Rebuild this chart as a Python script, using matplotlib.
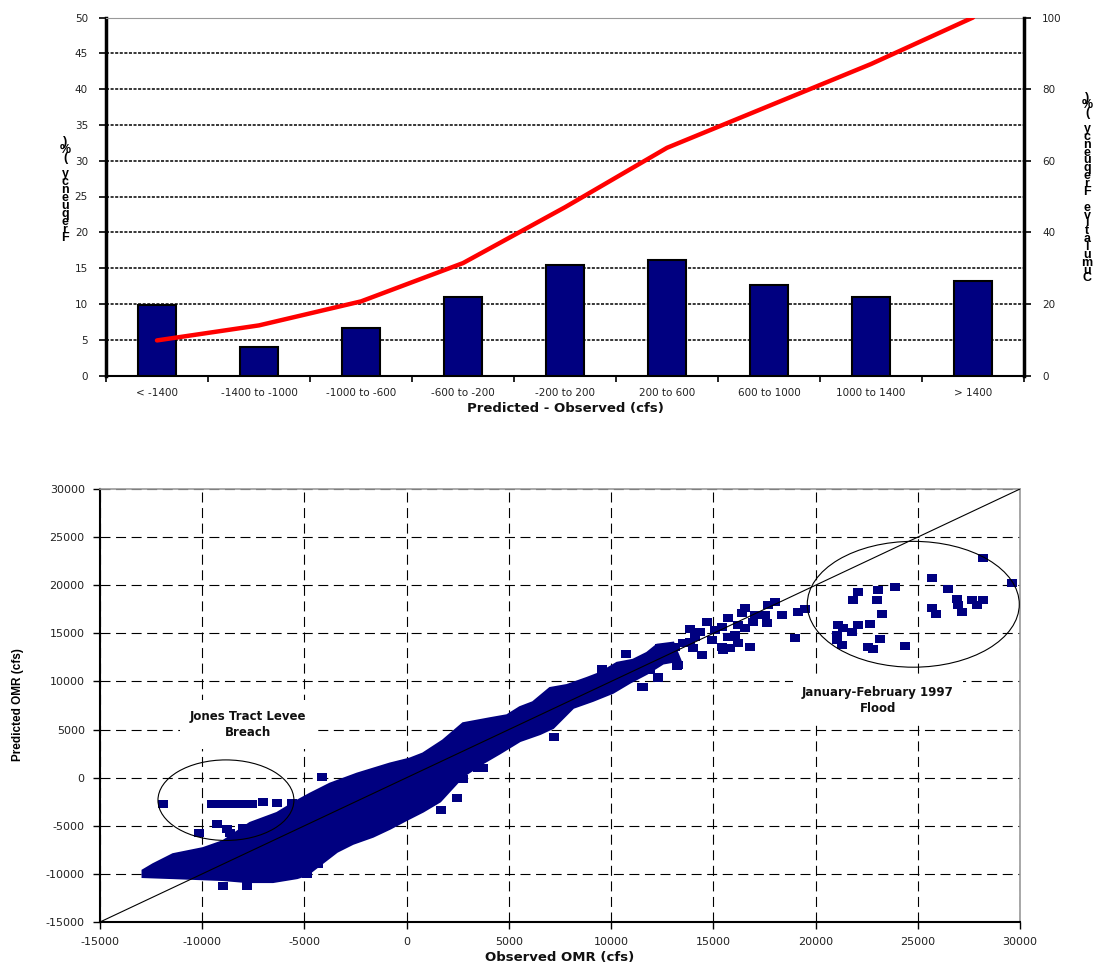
import matplotlib
matplotlib.use('Agg')
import matplotlib.pyplot as plt
from matplotlib.patches import Ellipse
import numpy as np

plt.rcParams['font.family'] = ['DejaVu Sans']
plt.rcParams['axes.unicode_minus'] = False

# ---------------- top chart data ----------------
categories = ["< -1400", "-1400 to -1000", "-1000 to -600", "-600 to -200",
              "-200 to 200", "200 to 600", "600 to 1000", "1000 to 1400", "> 1400"]
frequency = [9.8, 4.0, 6.7, 10.9, 15.5, 16.2, 12.6, 10.9, 13.2]
cumulative = [9.8, 14.0, 20.7, 31.4, 47.0, 63.6, 75.3, 87.0, 100.0]
freq_ticks = [0, 5, 10, 15, 20, 25, 30, 35, 40, 45, 50]
cum_ticks = [0, 20, 40, 60, 80, 100]

# ---------------- bottom chart data ----------------
# dense band of points: outer envelope (upper edge left->right, lower edge right->left)
band_upper_x = [-12900, -12400, -11430, -9960, -8980, -7660, -6340, -5360, -4730, -3750,
                -2430, -820, 160, 800, 1780, 2760, 4080, 4910, 5540, 6180, 7010, 7840,
                8820, 9460, 10290, 11070, 11760, 12250, 13030]
band_upper_y = [-9660, -9030, -7990, -7360, -6630, -4740, -3700, -2440, -1710, -660,
                380, 1430, 1950, 2480, 3840, 5620, 6140, 6450, 7290, 7810, 9280, 9590,
                10330, 10850, 11900, 12210, 12940, 13780, 13990]
band_lower_x = [13370, 12540, 11760, 10920, 10090, 9110, 8140, 7160, 6520, 5540, 4570,
                3730, 2760, 1630, 800, 20, -820, -1650, -2630, -3410, -4240, -4880,
                -5360, -6540, -7810, -8980, -11430, -12900]
band_lower_y = [12210, 11900, 10850, 9910, 8860, 8020, 7290, 5200, 4570, 3840, 2580,
                1540, 180, -2440, -3490, -4330, -5270, -6100, -6840, -7670, -9030, -10080,
                -10400, -10810, -10810, -10600, -10400, -10290]

# Jones Tract levee breach points
jones_x = [-11920, -9520, -9030, -8540, -8050, -7570, -7030, -6340, -5610, -4140,
           -9280, -10160, -8790, -8640, -8010, -8300, -8980, -7810]
jones_y = [-2760, -2760, -2760, -2760, -2760, -2760, -2550, -2650, -2650, 70,
           -4850, -5790, -5370, -5790, -5270, -6100, -11230, -11230]

# scattered points off / along the band
other_x = [-4730, -4340, -4970, -4880, 1680, 2460, 2760, 3490, 3730, 7210,
           10730, 9550, 11510, 12290, 13220,
           11560, 11900, 12290, 12050, 12390, 12880, 13270, 13130, 13520, 13860,
           14000, 14450, 14100, 14350, 14690, 13860, 14940, 15080, 15420, 15420,
           15470, 15820, 15720, 15720, 16060, 16210, 16210, 16400, 16550, 16550,
           16790, 17040, 16940, 17530, 17630, 17670, 18020, 18360, 19000, 19140, 19480]
other_y = [-8200, -8930, -9450, -9980, -3380, -2130, -140, 1010, 1010, 4260,
           12840, 11270, 9380, 10330, 11580,
           9380, 11160, 10430, 12000, 13470, 13260, 11690, 13570, 13990, 14090,
           13470, 12730, 14620, 15140, 16190, 15450, 14300, 15350, 15660, 13570,
           13260, 13470, 14620, 16600, 14830, 15870, 13990, 17130, 17650, 15560,
           13570, 16920, 16190, 16920, 16080, 17970, 18280, 16920, 14510, 17230, 17550]

# January-February 1997 flood points
flood_x = [21830, 22080, 23060, 23010, 23890, 23250, 21100, 21340, 21050, 21050,
           21290, 21780, 22080, 22660, 23150, 22570, 22810, 24380, 25700, 26480,
           25700, 25890, 26920, 26970, 27160, 27650, 27900, 28190, 28190, 29610]
flood_y = [18490, 19330, 19540, 18490, 19850, 17020, 15870, 15560, 14830, 14300,
           13780, 15140, 15870, 15980, 14410, 13570, 13360, 13680, 20790, 19640,
           17650, 17020, 18590, 17970, 17230, 18490, 17970, 18490, 22780, 20270]

parity_x = [-15000, 30000]
parity_y = [-15000, 30000]
omr_ticks = [-15000, -10000, -5000, 0, 5000, 10000, 15000, 20000, 25000, 30000]
omr_labels = ["-15000", "-10000", "-5000", "0", "5000", "10000", "15000", "20000",
              "25000", "30000"]

NAVY = '#000080'
W, H = 1099, 965
fig = plt.figure(figsize=(W / 100, H / 100), dpi=100)

# ================= top chart =================
L, R, T, B = 106, 1024, 17.5, 375.5
ax1 = fig.add_axes([L / W, 1 - B / H, (R - L) / W, (B - T) / H])
xpos = np.arange(len(categories))
ax1.bar(xpos, frequency, width=0.38, color=NAVY, edgecolor='black', linewidth=1.5, zorder=3)
ax1.set_xlim(-0.5, len(categories) - 0.5)
ax1.set_ylim(0, 50)
ax1.set_yticks(freq_ticks)
ax1.set_yticklabels([str(v) for v in freq_ticks])
ax1.yaxis.grid(True, color='black', linestyle=(0, (2, 1)), linewidth=1.1)
ax1.set_axisbelow(True)
ax1.set_xticks(np.arange(-0.5, len(categories), 1.0))
ax1.set_xticklabels([])
ax1.set_xticks(xpos, minor=True)
ax1.set_xticklabels(categories, minor=True)
ax1.tick_params(axis='x', which='major', direction='out', length=4, width=1.2)
ax1.tick_params(axis='x', which='minor', length=0, pad=9, labelsize=7.5, labelcolor='#222222')
ax1.tick_params(axis='y', direction='out', length=5, width=1.2, labelsize=7.5,
                labelcolor='#222222', pad=8)
ax1.spines['left'].set_linewidth(2.5)
ax1.spines['bottom'].set_linewidth(1.5)
ax1.spines['top'].set_color('#999999')
ax1.spines['right'].set_visible(False)

ax2 = ax1.twinx()
ax2.plot(xpos, cumulative, color='#ff0000', linewidth=3.2, solid_capstyle='round', zorder=5)
ax2.set_ylim(0, 100)
ax2.set_yticks(cum_ticks)
ax2.set_yticklabels([str(v) for v in cum_ticks])
ax2.tick_params(axis='y', direction='out', length=5, width=1.2, labelsize=7.5,
                labelcolor='#222222', pad=8)
for s in ['left', 'top', 'bottom']:
    ax2.spines[s].set_visible(False)
ax2.spines['right'].set_linewidth(2.5)

fig.text(565 / W, 1 - 408 / H, "Predicted - Observed (cfs)", ha='center', va='center',
         fontsize=9.5, fontweight='bold', color='#111111')
fig.text(65 / W, 1 - 190 / H, "\n".join(")%( ycneuqerF"), ha='center', va='center',
         fontsize=9, fontweight='bold', linespacing=0.56, family=['Liberation Sans'])
fig.text(1087 / W, 1 - 188 / H, "\n".join(")%( ycneuqerF evitalumuC"), ha='center',
         va='center', fontsize=9, fontweight='bold', linespacing=0.54,
         family=['Liberation Sans'])

# ================= bottom chart =================
L, R, T, B = 100, 1020, 489, 922
ax3 = fig.add_axes([L / W, 1 - B / H, (R - L) / W, (B - T) / H])
ax3.set_xlim(-15000, 30000)
ax3.set_ylim(-15000, 30000)
ax3.set_xticks(omr_ticks)
ax3.set_xticklabels(omr_labels)
ax3.set_yticks(omr_ticks)
ax3.set_yticklabels(omr_labels)
ax3.grid(True, color='black', linestyle=(0, (9, 5)), linewidth=0.8)
ax3.set_axisbelow(True)
ax3.tick_params(direction='out', length=5, width=1.0, labelsize=8, labelcolor='#222222', pad=6)
ax3.spines['left'].set_linewidth(1.5)
ax3.spines['bottom'].set_linewidth(1.5)
for s in ['top', 'right']:
    ax3.spines[s].set_color('#999999')
    ax3.spines[s].set_linewidth(1.2)

ax3.fill(band_upper_x + band_lower_x, band_upper_y + band_lower_y, color=NAVY,
         linewidth=2.0, edgecolor=NAVY, joinstyle='miter', zorder=2)
rect = [(-1, -0.8), (1, -0.8), (1, 0.8), (-1, 0.8), (-1, -0.8)]
for xs, ys in [(jones_x, jones_y), (other_x, other_y), (flood_x, flood_y)]:
    ax3.scatter(xs, ys, marker=rect, s=52, color=NAVY, linewidths=0, zorder=3)

ax3.plot(parity_x, parity_y, color='black', linewidth=0.8, zorder=4)

jones_ellipse = dict(xy=(-8840, -2340), width=6650, height=8370)
flood_ellipse = dict(xy=(24780, 18020), width=10370, height=13080)
for e in [jones_ellipse, flood_ellipse]:
    ax3.add_patch(Ellipse(e['xy'], e['width'], e['height'], fill=False,
                          edgecolor='black', linewidth=0.8, zorder=4))

ax3.text(-7760, 5510, "Jones Tract Levee\nBreach", ha='center', va='center',
         fontsize=8.5, fontweight='bold', linespacing=1.35, color='#111111', zorder=5,
         bbox=dict(boxstyle='square,pad=0.8', facecolor='white', edgecolor='none'))
ax3.text(23050, 8020, "January-February 1997\nFlood", ha='center', va='center',
         fontsize=8.5, fontweight='bold', linespacing=1.35, color='#111111', zorder=5,
         bbox=dict(boxstyle='square,pad=0.8', facecolor='white', edgecolor='none'))

fig.text(560 / W, 1 - 957 / H, "Observed OMR (cfs)", ha='center', va='center',
         fontsize=9.5, fontweight='bold', color='#111111')
fig.text(18 / W, 1 - 705 / H, "Predicted OMR (cfs)", ha='center', va='center',
         rotation=90, fontsize=8.5, fontweight='bold', family=['Liberation Sans'])

fig.savefig('out.png', dpi=100)
